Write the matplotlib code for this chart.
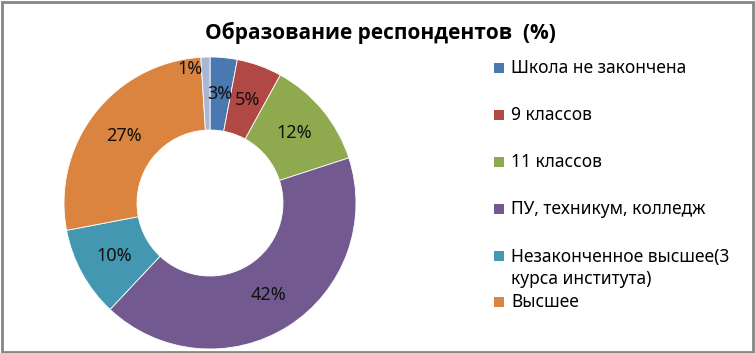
import numpy as np
import matplotlib.pyplot as plt
from matplotlib.patches import Rectangle

plt.rcParams['font.family'] = ['Noto Sans', 'DejaVu Sans']

# данные
categories = ['Школа не закончена', '9 классов', '11 классов',
              'ПУ, техникум, колледж',
              'Незаконченное высшее(3\nкурса института)', 'Высшее', 'Другое']
values = [3, 5, 12, 42, 10, 27, 1]
colors = ['#4A78B0', '#B04846', '#8FAA4E', '#725A90', '#4397B0', '#DA8440', '#A8B7D3']

W, H = 755, 353
fig = plt.figure(figsize=(W / 100, H / 100), dpi=100)

# рамка
fig.add_artist(Rectangle((1.5 / W, 1.5 / H), (W - 3.5) / W, (H - 3) / H,
                         transform=fig.transFigure, fill=False,
                         edgecolor='#868686', linewidth=2))

# кольцевая диаграмма
cx, cy, r = 210, 203, 146
side = 2 * r * 1.02
ax = fig.add_axes([(cx - side / 2) / W, (H - cy - side / 2) / H, side / W, side / H])
wedges, texts, autotexts = ax.pie(
    values, colors=colors, startangle=90, counterclock=False,
    radius=1, wedgeprops=dict(width=0.5, edgecolor='white', linewidth=0.6),
    autopct='%d%%', pctdistance=0.75,
    textprops=dict(fontsize=13, color='#111111'))
ax.set_xlim(-1.02, 1.02)
ax.set_ylim(-1.02, 1.02)
ax.set_aspect('equal')
ax.axis('off')

# подпись 1% вынесена к краю
ang = np.deg2rad(90 + 8.4)
autotexts[-1].set_position((0.93 * np.cos(ang), 0.93 * np.sin(ang)))

fig.text(380 / W, 1 - 33 / H, 'Образование респондентов  (%)',
         ha='center', va='center', fontsize=15, fontweight='bold',
         family=['Open Sans', 'DejaVu Sans'])

# легенда
leg_y = [68, 115, 162, 209, 256, 302]
for i, lab in enumerate(categories[:6]):
    y = leg_y[i]
    fig.add_artist(Rectangle((494 / W, 1 - (y + 5) / H), 10 / W, 10 / H,
                             transform=fig.transFigure, facecolor=colors[i],
                             edgecolor='none'))
    ty = y + 12 if '\n' in lab else y
    fig.text(511 / W, 1 - ty / H, lab, ha='left', va='center',
             fontsize=12.5, linespacing=1.35)

fig.savefig('out.png', dpi=100)
